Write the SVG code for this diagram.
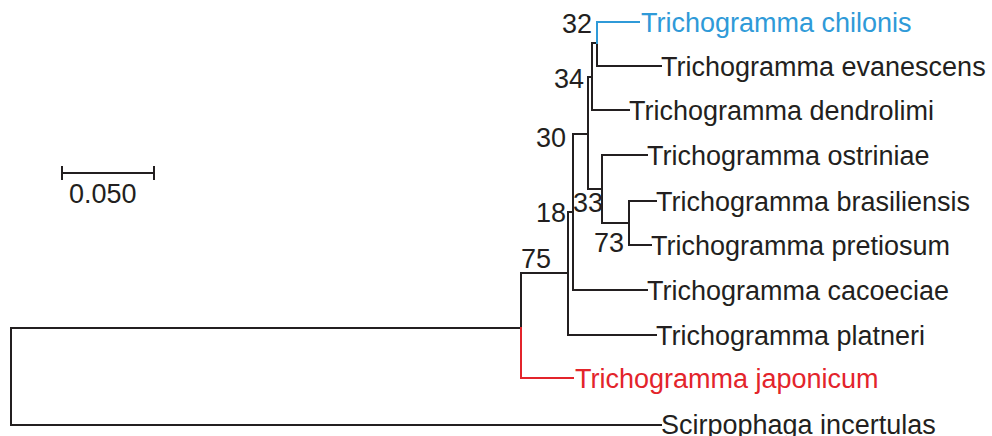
<svg xmlns="http://www.w3.org/2000/svg" width="992" height="436" viewBox="0 0 992 436">
<style>
.e{fill:none;stroke:#231f20;stroke-width:2;stroke-linecap:square}
.blue{stroke:#2f9ad8}
.red{stroke:#e3242b}
text{font-family:"Liberation Sans",Arial,sans-serif;font-size:27px;fill:#231f20}
.bt{text-anchor:end}
.tb{fill:#2f9ad8}
.tr{fill:#e3242b}
</style>
<rect width="992" height="436" fill="#ffffff"/>
<g id="connectors">
<path class="e" d="M11,328 V425 H661"/>
<path class="e" d="M11,328 H521 V273 H568"/>
<path class="e red" d="M521,328 V378 H573"/>
<path class="e" d="M568,212 V335 H656"/>
<path class="e" d="M568,212 H573"/>
<path class="e" d="M573,134 V290 H647"/>
<path class="e" d="M573,134 H588"/>
<path class="e" d="M588,77 V189 H602"/>
<path class="e" d="M588,77 H592"/>
<path class="e" d="M592,43 V110 H629"/>
<path class="e" d="M592,43 H597 V66 H661"/>
<path class="e blue" d="M597,43 V22 H639"/>
<path class="e" d="M602,155 V223 H629"/>
<path class="e" d="M602,155 H647"/>
<path class="e" d="M629,201 V245 H651"/>
<path class="e" d="M629,201 H656"/>
</g>
<g id="n-chilonis"><text class="tb" x="641" y="31.5">Trichogramma chilonis</text></g>
<g id="n-evanescens"><text x="661" y="75.5">Trichogramma evanescens</text></g>
<g id="n-dendrolimi"><text x="629" y="119.5">Trichogramma dendrolimi</text></g>
<g id="n-ostriniae"><text x="647" y="164.5">Trichogramma ostriniae</text></g>
<g id="n-brasiliensis"><text x="656" y="210.5">Trichogramma brasiliensis</text></g>
<g id="n-pretiosum"><text x="651" y="254.5">Trichogramma pretiosum</text></g>
<g id="n-cacoeciae"><text x="647" y="299.5">Trichogramma cacoeciae</text></g>
<g id="n-platneri"><text x="656" y="344.5">Trichogramma platneri</text></g>
<g id="n-japonicum"><text class="tr" x="575" y="387.5">Trichogramma japonicum</text></g>
<g id="n-scirpophaga"><text x="661" y="434">Scirpophaga incertulas</text></g>
<g id="bootstrap">
<text class="bt" x="592" y="33">32</text>
<text class="bt" x="584" y="88">34</text>
<text class="bt" x="566" y="147">30</text>
<text class="bt" x="603" y="212">33</text>
<text class="bt" x="566" y="222">18</text>
<text class="bt" x="624" y="252">73</text>
<text class="bt" x="551" y="268">75</text>
</g>
<g id="scale">
<path class="e" d="M62,173 H154 M62,167 V179 M154,167 V179"/>
<text x="69" y="203">0.050</text>
</g>
</svg>
